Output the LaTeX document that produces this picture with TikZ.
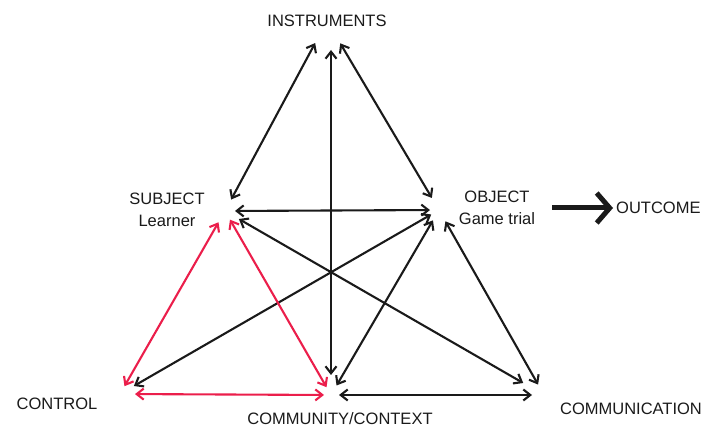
\documentclass[tikz,border=0pt]{standalone}
\usepackage{fontspec}
\setmainfont{Liberation Sans}
\usetikzlibrary{arrows.meta,positioning}
\definecolor{ink}{HTML}{1A1A1A}
\definecolor{ctrlred}{HTML}{EB1E4B}
\tikzset{
  lbl/.style={font=\fontsize{16.5}{22}\selectfont,text=ink,align=center,inner sep=3pt},
  link/.style={{Straight Barb[length=7pt,width=11pt]}-{Straight Barb[length=7pt,width=11pt]},
    line width=2.1pt,color=ink},
  redlink/.style={link,color=ctrlred},
  res/.style={-{Straight Barb[length=13pt,width=30pt]},line width=5pt,color=ink}
}
\begin{document}
\begin{tikzpicture}[x=1pt,y=-1pt]
  \useasboundingbox (0,0) rectangle (707,427);
  % hubs where the arrows meet
  \coordinate (s) at (225,211);
  \coordinate (o) at (439,210);
  \coordinate (c) at (120,394);
  \coordinate (k) at (331,395);
  \coordinate (m) at (544,395);
  % labels
  \node[lbl] (instr) at (327,21) {INSTRUMENTS};
  \node[lbl] (subj) at (167,210) {SUBJECT\\Learner};
  \node[lbl] (obj) at (497,208) {OBJECT\\Game trial};
  \node[lbl,anchor=west] (outc) at (613,208) {OUTCOME};
  \node[lbl] (ctrl) at (57,404) {CONTROL};
  \node[lbl] (comty) at (340,419) {COMMUNITY/CONTEXT};
  \node[lbl] (comn) at (631,409) {COMMUNICATION};
  \foreach \a/\b/\p/\q in {instr.center/s/25/13,instr.center/o/26/14,instr.center -| k/k/29/20,
      s/o/10/9,s/m/16/24,o/c/9/16,o/k/12/11,o/m/13/12,k/m/8/12}
    \draw[link,shorten <=\p pt,shorten >=\q pt] (\a) -- (\b);
  \foreach \a/\b/\p/\q in {s/c/13/9,s/k/10/9,c/k/15/7}
    \draw[redlink,shorten <=\p pt,shorten >=\q pt] (\a) -- (\b);
  \draw[res,shorten <=14pt] (obj.east) -- (outc.west);
\end{tikzpicture}
\end{document}
